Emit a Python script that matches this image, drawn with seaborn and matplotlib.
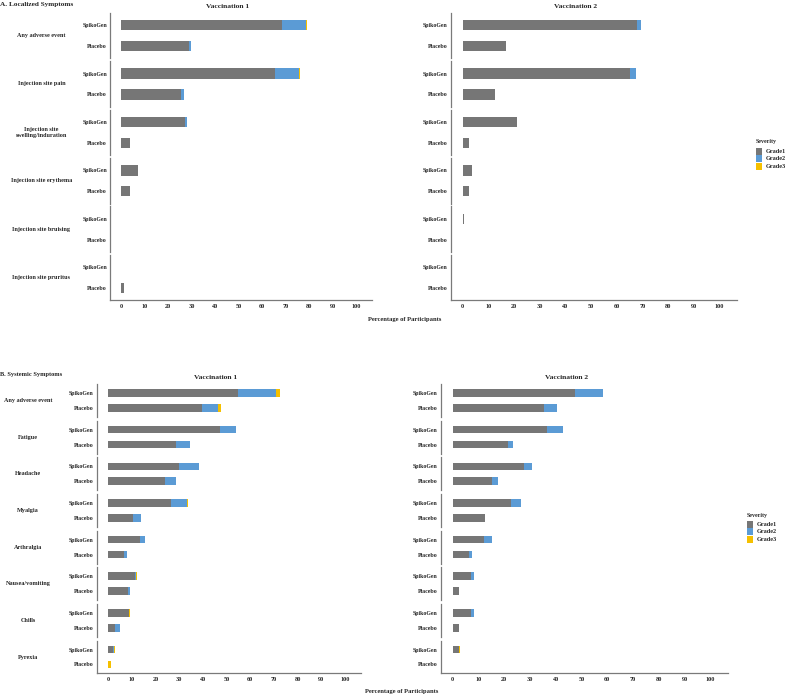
import numpy as np
import pandas as pd
import matplotlib
matplotlib.use("Agg")
import matplotlib.pyplot as plt
import seaborn as sns
from matplotlib.patches import Rectangle

# ---- data (percent of participants) ----
arms = ["SpikoGen", "Placebo"]
grades = ["Grade1", "Grade2", "Grade3"]
grade_colors = ["#767676", "#5B9BD5", "#F5C000"]

local_symptoms = ["Any adverse event", "Injection site pain",
                  "Injection site\nswelling/induration", "Injection site erythema",
                  "Injection site bruising", "Injection site pruritus"]
sys_symptoms = ["Any adverse event", "Fatigue", "Headache", "Myalgia",
                "Arthralgia", "Nausea/vomiting", "Chills", "Pyrexia"]

# each row: [SpikoGen, Placebo]
local_v1_g1 = [[68.4, 28.6], [65.5, 25.2], [27.0, 3.8], [6.9, 3.8], [0, 0], [0, 1.1]]
local_v1_g2 = [[10.3, 1.0], [10.1, 1.4], [1.0, 0], [0, 0], [0, 0], [0, 0]]
local_v1_g3 = [[0.3, 0], [0.3, 0], [0, 0], [0, 0], [0, 0], [0, 0]]

local_v2_g1 = [[67.7, 17.0], [65.3, 12.7], [21.2, 2.6], [3.6, 2.6], [0.4, 0], [0, 0]]
local_v2_g2 = [[1.7, 0], [2.2, 0], [0, 0], [0, 0], [0, 0], [0, 0]]
local_v2_g3 = [[0, 0], [0, 0], [0, 0], [0, 0], [0, 0], [0, 0]]

sys_v1_g1 = [[54.6, 39.8], [47.2, 28.7], [30.0, 24.2], [26.5, 10.5],
             [13.3, 6.7], [11.4, 8.3], [8.6, 2.9], [2.0, 0]]
sys_v1_g2 = [[16.4, 6.7], [6.8, 5.8], [8.5, 4.5], [6.9, 3.4],
             [2.3, 1.4], [0.4, 1.1], [0.4, 2.0], [0.4, 0]]
sys_v1_g3 = [[1.7, 1.0], [0, 0], [0, 0], [0.3, 0],
             [0, 0], [0.3, 0], [0.3, 0], [0.5, 1.1]]

sys_v2_g1 = [[47.4, 35.5], [36.8, 21.3], [27.6, 15.2], [22.6, 12.4],
             [12.3, 6.4], [7.0, 2.4], [7.3, 2.4], [2.6, 0]]
sys_v2_g2 = [[10.8, 4.8], [6.0, 2.2], [3.1, 2.3], [4.0, 0],
             [3.1, 1.0], [1.4, 0], [1.1, 0], [0, 0]]
sys_v2_g3 = [[0.3, 0], [0, 0], [0, 0], [0, 0],
             [0, 0], [0, 0], [0, 0], [0.3, 0]]

x_ticks = list(range(0, 101, 10))

sns.set_style("white")
plt.rcParams["font.family"] = ["Liberation Serif", "DejaVu Serif"]
plt.rcParams["font.weight"] = "bold"

W, H = 787, 697
fig = plt.figure(figsize=(W / 100, H / 100), dpi=100)
AXIS_COL = "#7a7a7a"
XLIM = (-4.7, 106.7)


def add_ax(x0, y0, x1, y1):
    return fig.add_axes([x0 / W, 1 - y1 / H, (x1 - x0) / W, (y1 - y0) / H])


def draw_facet(ax, g1, g2, g3, last):
    g1 = np.array(g1, dtype=float)
    g12 = g1 + np.array(g2)
    tot = g12 + np.array(g3)
    df = pd.DataFrame({"arm": arms, "g1": g1, "g12": g12, "tot": tot})
    # stacked bars drawn back to front
    for col, colour in [("tot", grade_colors[2]), ("g12", grade_colors[1]),
                        ("g1", grade_colors[0])]:
        sns.barplot(data=df, x=col, y="arm", orient="h", color=colour,
                    saturation=1, width=0.5, errorbar=None, linewidth=0, ax=ax)
    ax.set_xlim(*XLIM)
    ax.set_ylim(1.6, -0.6)
    ax.set_xlabel("")
    ax.set_ylabel("")
    for s in ["top", "right"]:
        ax.spines[s].set_visible(False)
    ax.spines["left"].set_color(AXIS_COL)
    ax.spines["left"].set_linewidth(0.9)
    ax.tick_params(axis="y", length=1.5, width=0.5, color=AXIS_COL, pad=0.8,
                   labelsize=4.2)
    for lab in ax.get_yticklabels():
        lab.set_fontweight("bold")
    if last:
        ax.spines["bottom"].set_color(AXIS_COL)
        ax.spines["bottom"].set_linewidth(0.9)
        ax.set_xticks(x_ticks)
        ax.set_xticklabels([str(t) for t in x_ticks], fontsize=4.5, fontweight="bold")
        ax.tick_params(axis="x", length=1.5, width=0.5, color=AXIS_COL, pad=1.2)
    else:
        ax.spines["bottom"].set_visible(False)
        ax.set_xticks([])


def draw_panel(x0, x1, top, height, step, g1, g2, g3, strips=None, strip_x=None):
    n = len(g1)
    for i in range(n):
        y0 = top + i * step
        ax = add_ax(x0, y0, x1, y0 + height)
        draw_facet(ax, g1[i], g2[i], g3[i], i == n - 1)
        if strips is not None:
            fig.text(strip_x / W, 1 - (y0 + height / 2) / H, strips[i],
                     ha="center", va="center", fontsize=4.4, fontweight="bold",
                     linespacing=1.2)


def draw_legend(x, y_title, y_box):
    fig.text(x / W, 1 - y_title / H, "Severity", ha="left", va="center",
             fontsize=4.3, fontweight="bold")
    for k, (g, c) in enumerate(zip(grades, grade_colors)):
        yb = y_box + k * 7.4
        fig.add_artist(Rectangle((x / W, 1 - (yb + 7.0) / H), 6.5 / W, 7.0 / H,
                                 transform=fig.transFigure, color=c, lw=0))
        fig.text((x + 10.5) / W, 1 - (yb + 3.6) / H, g, ha="left", va="center",
                 fontsize=4.5, fontweight="bold")


# ---- A. Localized symptoms ----
fig.text(0.5 / W, 1 - 4.5 / H, "A. Localized Symptoms", ha="left", va="center",
         fontsize=5.2, fontweight="bold")
fig.text(227.7 / W, 1 - 6.5 / H, "Vaccination 1", ha="center", va="center",
         fontsize=5.4, fontweight="bold")
fig.text(576 / W, 1 - 6.5 / H, "Vaccination 2", ha="center", va="center",
         fontsize=5.4, fontweight="bold")
draw_panel(110.3, 372, 12.7, 45.7, 48.4, local_v1_g1, local_v1_g2, local_v1_g3,
           strips=local_symptoms, strip_x=41.5)
draw_panel(450.7, 736.7, 12.7, 45.7, 48.4, local_v2_g1, local_v2_g2, local_v2_g3)
fig.text(405 / W, 1 - 319 / H, "Percentage of Participants", ha="center",
         va="center", fontsize=4.7, fontweight="bold")
draw_legend(755.5, 142.0, 147.7)

# ---- B. Systemic symptoms ----
fig.text(0.5 / W, 1 - 375 / H, "B. Systemic Symptoms", ha="left", va="center",
         fontsize=4.6, fontweight="bold")
fig.text(216 / W, 1 - 377.5 / H, "Vaccination 1", ha="center", va="center",
         fontsize=5.4, fontweight="bold")
fig.text(566.7 / W, 1 - 377.5 / H, "Vaccination 2", ha="center", va="center",
         fontsize=5.4, fontweight="bold")
draw_panel(97, 361, 384, 32.9, 36.65, sys_v1_g1, sys_v1_g2, sys_v1_g3,
           strips=sys_symptoms, strip_x=28)
draw_panel(440.5, 727.7, 384, 32.9, 36.65, sys_v2_g1, sys_v2_g2, sys_v2_g3)
fig.text(402 / W, 1 - 692 / H, "Percentage of Participants", ha="center",
         va="center", fontsize=4.7, fontweight="bold")
draw_legend(746.7, 515.0, 520.8)

fig.savefig("out.png", dpi=100, facecolor="white")
